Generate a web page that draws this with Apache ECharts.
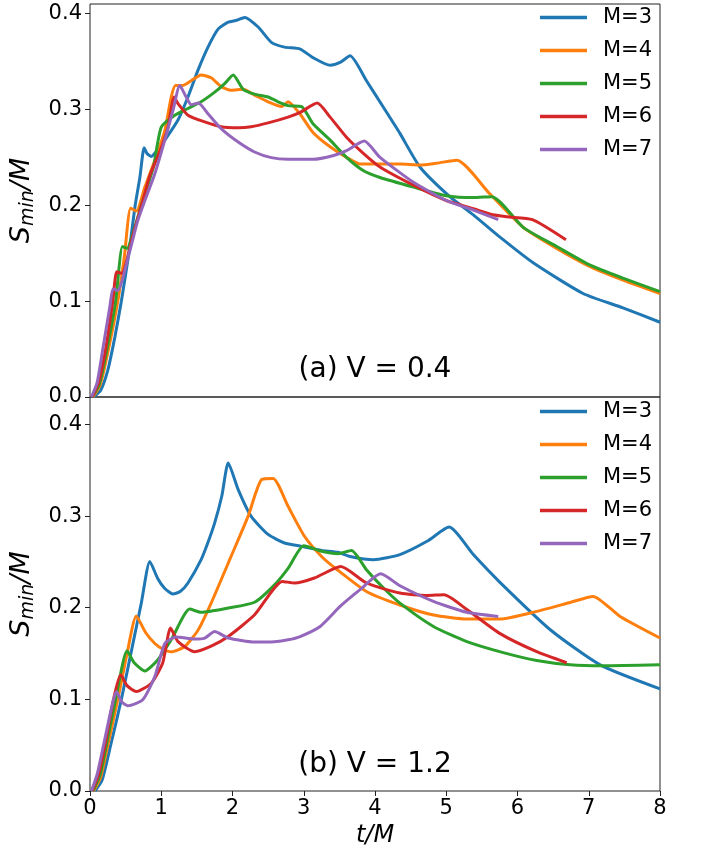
<!DOCTYPE html>
<html>
<head>
<meta charset="utf-8">
<script src="https://cdn.jsdelivr.net/npm/echarts@6/dist/echarts.min.js"></script>
<style>
  html, body { margin: 0; padding: 0; background: #fff; }
  #chart { width: 702px; height: 855px; }
</style>
</head>
<body>
<div id="chart"></div>
<script>
// Series labels (number of modes M)
const seriesNames = ['M=3', 'M=4', 'M=5', 'M=6', 'M=7'];
const seriesColors = ['#1f77b4', '#ff7f0e', '#2ca02c', '#d62728', '#9467bd'];

// Tick values shared by both panels
const xTicks = [0, 1, 2, 3, 4, 5, 6, 7, 8];
const yTicks = [0, 0.1, 0.2, 0.3, 0.4];

// Panel (a): V = 0.4, points are [t/M, S_min/M]
const a_M3 = [[0.05,0],[0.15,0.007],[0.25,0.028],[0.35,0.063],[0.44,0.1],[0.55,0.152],[0.63,0.198],[0.70,0.229],[0.76,0.26],[0.80,0.254],[0.86,0.251],[0.95,0.258],[1.05,0.268],[1.235,0.289],[1.375,0.313],[1.516,0.341],[1.656,0.365],[1.8,0.384],[1.94,0.391],[2.06,0.393],[2.17,0.396],[2.36,0.386],[2.545,0.370],[2.73,0.365],[2.95,0.363],[3.13,0.354],[3.37,0.346],[3.51,0.349],[3.65,0.356],[3.88,0.330],[4.12,0.302],[4.35,0.275],[4.63,0.240],[5.05,0.209],[5.38,0.190],[5.75,0.167],[6.22,0.140],[6.92,0.108],[7.48,0.093],[8.0,0.078]];
const a_M4 = [[0.04,0],[0.14,0.012],[0.26,0.05],[0.39,0.1],[0.48,0.145],[0.57,0.197],[0.65,0.194],[0.77,0.219],[0.91,0.247],[1.05,0.278],[1.14,0.313],[1.2,0.325],[1.3,0.325],[1.42,0.330],[1.56,0.336],[1.70,0.333],[1.84,0.324],[1.98,0.320],[2.15,0.321],[2.31,0.315],[2.50,0.308],[2.69,0.303],[2.78,0.308],[2.95,0.295],[3.13,0.276],[3.37,0.261],[3.6,0.250],[3.79,0.243],[4.07,0.243],[4.35,0.243],[4.63,0.242],[4.87,0.244],[5.15,0.247],[5.61,0.212],[6.08,0.177],[6.55,0.155],[7.02,0.136],[7.48,0.122],[8.0,0.108]];
const a_M5 = [[0.03,0],[0.13,0.013],[0.24,0.05],[0.36,0.1],[0.455,0.157],[0.52,0.155],[0.6,0.170],[0.7,0.195],[0.89,0.24],[1.0,0.2816],[1.19,0.294],[1.375,0.301],[1.56,0.308],[1.75,0.318],[1.89,0.327],[2.01,0.336],[2.15,0.321],[2.31,0.316],[2.50,0.313],[2.64,0.308],[2.78,0.304],[2.97,0.303],[3.13,0.285],[3.37,0.268],[3.6,0.250],[3.84,0.236],[4.07,0.229],[4.54,0.219],[5.0,0.210],[5.38,0.208],[5.64,0.209],[6.08,0.177],[6.55,0.157],[7.02,0.1375],[7.48,0.124],[8.0,0.110]];
const a_M6 = [[0.03,0],[0.12,0.015],[0.22,0.05],[0.32,0.1],[0.375,0.1306],[0.445,0.129],[0.6,0.168],[0.75,0.207],[0.84,0.231],[0.98,0.256],[1.095,0.2816],[1.18,0.313],[1.235,0.306],[1.375,0.294],[1.61,0.287],[1.84,0.282],[2.08,0.281],[2.26,0.282],[2.50,0.286],[2.78,0.292],[2.95,0.297],[3.19,0.3066],[3.37,0.292],[3.6,0.271],[3.84,0.254],[4.07,0.240],[4.54,0.221],[5.0,0.205],[5.38,0.1965],[5.61,0.191],[5.85,0.188],[6.21,0.185],[6.68,0.164]];
const a_M7 = [[0.02,0],[0.1,0.015],[0.18,0.05],[0.28,0.095],[0.323,0.113],[0.39,0.111],[0.55,0.15],[0.67,0.184],[0.77,0.205],[0.91,0.233],[1.05,0.268],[1.165,0.299],[1.26,0.325],[1.35,0.313],[1.42,0.305],[1.52,0.3066],[1.656,0.2955],[1.84,0.280],[2.08,0.266],[2.31,0.2556],[2.545,0.2497],[2.78,0.248],[3.13,0.248],[3.42,0.252],[3.6,0.257],[3.85,0.267],[4.07,0.250],[4.54,0.224],[5.0,0.205],[5.38,0.195],[5.73,0.185]];

// Panel (b): V = 1.2
const b_M3 = [[0.07,0],[0.17,0.012],[0.29,0.05],[0.44,0.1],[0.6,0.16],[0.72,0.205],[0.84,0.2506],[0.95,0.232],[1.05,0.221],[1.165,0.215],[1.27,0.218],[1.375,0.227],[1.56,0.2525],[1.65,0.27],[1.75,0.2926],[1.85,0.322],[1.94,0.358],[2.08,0.329],[2.26,0.300],[2.50,0.280],[2.73,0.2707],[2.97,0.267],[3.25,0.2626],[3.48,0.2605],[3.65,0.256],[3.98,0.2525],[4.35,0.258],[4.73,0.2725],[5.04,0.288],[5.38,0.258],[5.75,0.228],[6.46,0.176],[7.16,0.1377],[8.0,0.1115]];
const b_M4 = [[0.05,0],[0.15,0.015],[0.25,0.05],[0.39,0.1],[0.52,0.15],[0.65,0.191],[0.78,0.173],[0.91,0.161],[1.02,0.155],[1.14,0.152],[1.33,0.1577],[1.52,0.176],[1.70,0.205],[1.98,0.256],[2.22,0.300],[2.41,0.340],[2.57,0.341],[2.78,0.3107],[3.01,0.278],[3.25,0.256],[3.47,0.2415],[3.88,0.2178],[4.35,0.203],[4.82,0.192],[5.29,0.1876],[5.75,0.1876],[6.27,0.196],[6.74,0.2058],[7.06,0.2124],[7.44,0.1905],[8.0,0.167]];
const b_M5 = [[0.04,0],[0.14,0.017],[0.23,0.05],[0.36,0.1],[0.52,0.153],[0.62,0.14],[0.77,0.131],[0.95,0.143],[1.14,0.165],[1.40,0.1985],[1.56,0.195],[1.94,0.1997],[2.31,0.206],[2.59,0.225],[2.78,0.243],[3.0,0.2677],[3.25,0.2616],[3.48,0.259],[3.67,0.2626],[3.88,0.2415],[4.12,0.2215],[4.35,0.205],[4.82,0.1796],[5.29,0.163],[5.8,0.151],[6.27,0.1424],[6.74,0.1377],[7.2,0.1366],[8.0,0.1377]];
const b_M6 = [[0.03,0],[0.12,0.018],[0.21,0.05],[0.33,0.1],[0.43,0.1268],[0.52,0.115],[0.65,0.1085],[0.86,0.1177],[1.02,0.1396],[1.13,0.178],[1.235,0.163],[1.47,0.152],[1.70,0.158],[1.94,0.1686],[2.31,0.1923],[2.70,0.2287],[2.87,0.227],[3.15,0.2325],[3.52,0.245],[3.88,0.227],[4.35,0.216],[4.73,0.2134],[4.97,0.2142],[5.29,0.198],[5.75,0.172],[6.27,0.152],[6.69,0.140]];
const b_M7 = [[0.02,0],[0.1,0.018],[0.19,0.05],[0.3,0.09],[0.37,0.1085],[0.45,0.097],[0.53,0.093],[0.74,0.0995],[0.91,0.125],[1.05,0.161],[1.21,0.168],[1.47,0.1658],[1.61,0.1669],[1.75,0.174],[1.94,0.1669],[2.31,0.1625],[2.59,0.163],[2.78,0.165],[2.95,0.1686],[3.23,0.1796],[3.51,0.2014],[3.79,0.2197],[4.08,0.237],[4.35,0.224],[4.82,0.207],[5.29,0.195],[5.73,0.1905]];

const panelA = [a_M3, a_M4, a_M5, a_M6, a_M7];
const panelB = [b_M3, b_M4, b_M5, b_M6, b_M7];

const FONT = '"DejaVu Sans", "Liberation Sans", sans-serif';
const ink = '#222';

function makeY(gridIndex, max) {
  return {
    type: 'value', gridIndex: gridIndex, min: 0, max: max, interval: 0.1,
    axisLine: { show: false },
    splitLine: { show: false },
    axisTick: { show: true, length: 5, customValues: yTicks, lineStyle: { color: ink, width: 1 } },
    axisLabel: {
      customValues: yTicks, margin: 8, color: '#000', fontSize: 21, fontFamily: FONT,
      formatter: v => v.toFixed(1)
    },
    name: '{s|S}{sub|min}{m|/M}',
    nameLocation: 'middle', nameRotate: 90, nameGap: 37,
    nameTextStyle: {
      rich: {
        s: { fontSize: 27, fontStyle: 'italic', fontFamily: FONT, color: '#000', lineHeight: 32, verticalAlign: 'middle' },
        sub: { fontSize: 19, fontStyle: 'italic', fontFamily: FONT, color: '#000', lineHeight: 32, verticalAlign: 'bottom' },
        m: { fontSize: 27, fontStyle: 'italic', fontFamily: FONT, color: '#000', lineHeight: 32, verticalAlign: 'middle' }
      }
    }
  };
}

function makeSeries(data, names, gridIndex) {
  return data.map((pts, i) => ({
    type: 'line', name: names[i], data: pts,
    xAxisIndex: gridIndex, yAxisIndex: gridIndex,
    symbol: 'none', showSymbol: false, smooth: 0.2,
    lineStyle: { width: 3, color: seriesColors[i] },
    itemStyle: { color: seriesColors[i] },
    emphasis: { disabled: true }, z: 2 + i
  }));
}

function makeLegend(top) {
  return {
    orient: 'vertical', left: 540, top: top, padding: 0,
    icon: 'rect', itemWidth: 47, itemHeight: 3.5, itemGap: 12,
    selectedMode: false, data: seriesNames,
    textStyle: { fontSize: 21, lineHeight: 21, fontFamily: FONT, color: '#000', padding: [0, 0, 0, 11] }
  };
}

const chart = echarts.init(document.getElementById('chart'), null, { renderer: 'canvas' });
chart.setOption({
  animation: false,
  backgroundColor: '#fff',
  color: seriesColors,
  grid: [
    { left: 90, top: 4, width: 570, height: 393, show: true, borderColor: ink, borderWidth: 1, backgroundColor: 'transparent' },
    { left: 90, top: 397, width: 570, height: 394, show: true, borderColor: ink, borderWidth: 1, backgroundColor: 'transparent' }
  ],
  xAxis: [
    { type: 'value', gridIndex: 0, min: 0, max: 8, interval: 1,
      axisLine: { show: false }, axisTick: { show: false }, axisLabel: { show: false }, splitLine: { show: false } },
    { type: 'value', gridIndex: 1, min: 0, max: 8, interval: 1,
      axisLine: { show: false }, splitLine: { show: false },
      axisTick: { show: true, length: 5, customValues: xTicks, lineStyle: { color: ink, width: 1 } },
      axisLabel: { customValues: xTicks, margin: 7, color: '#000', fontSize: 21, fontFamily: FONT },
      name: 't/M', nameLocation: 'middle', nameGap: 33,
      nameTextStyle: { fontSize: 24, fontStyle: 'italic', fontFamily: FONT, color: '#000' } }
  ],
  yAxis: [makeY(0, 0.41), makeY(1, 0.43)],
  legend: [makeLegend(7), makeLegend(401)],
  graphic: [
    { type: 'text', x: 375, y: 370, style: { text: '(a) V = 0.4', fontSize: 28, fontFamily: FONT, fill: '#000', align: 'center', verticalAlign: 'middle' } },
    { type: 'text', x: 375, y: 765, style: { text: '(b) V = 1.2', fontSize: 28, fontFamily: FONT, fill: '#000', align: 'center', verticalAlign: 'middle' } }
  ],
  series: makeSeries(panelA, seriesNames, 0).concat(makeSeries(panelB, seriesNames, 1))
});
</script>
</body>
</html>
